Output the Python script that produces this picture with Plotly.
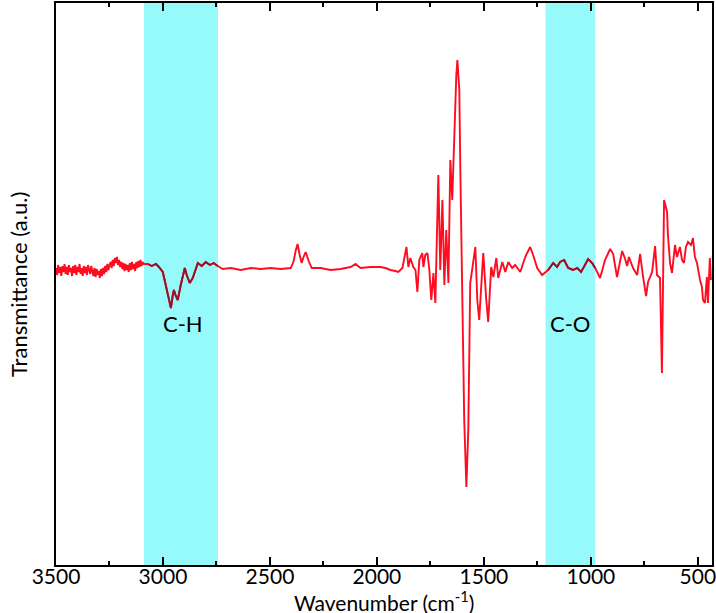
import plotly.graph_objects as go

# Wavenumber (cm-1) and transmittance (a.u.)
wn_noisy = [
    3500, 3495, 3490, 3485, 3480, 3475, 3470, 3465, 3460, 3455, 3450, 3445, 3440, 3435, 3430, 3425, 3420,
    3415, 3410, 3405, 3400, 3395, 3390, 3385, 3380, 3375, 3370, 3365, 3360, 3355, 3350, 3345, 3340, 3335,
    3330, 3325, 3320, 3315, 3310, 3305, 3300, 3295, 3290, 3285, 3280, 3275, 3270, 3265, 3260, 3255, 3250,
    3245, 3240, 3235, 3230, 3225, 3220, 3215, 3210, 3205, 3200, 3195, 3190, 3185, 3180, 3175, 3170, 3165,
    3160, 3155, 3150, 3145, 3140, 3135, 3130, 3125, 3120, 3115, 3110, 3105, 3100, 3095, 3090,
]
t_noisy = [
    297, 290, 300, 292, 298, 289, 299, 293, 301, 291, 298, 290, 300, 293, 297, 289, 299,
    292, 300, 290, 298, 293, 301, 291, 297, 289, 299, 292, 298, 290, 300, 294, 291, 299,
    293, 289, 297, 288, 296, 290, 294, 287, 296, 289, 297, 291, 299, 293, 301, 295, 300,
    303, 297, 305, 299, 307, 302, 308, 300, 305, 298, 303, 296, 302, 294, 301, 295, 300,
    293, 302, 295, 303, 296, 301, 294, 303, 297, 304, 298, 305, 299, 303, 301,
]
wn_rest = [
    3071, 3052, 3033, 3019, 3001, 2987, 2973, 2963, 2954, 2949, 2940, 2931, 2917, 2898, 2889,
    2875, 2861, 2847, 2837, 2819, 2800, 2781, 2763, 2744, 2721, 2683, 2637, 2590, 2543, 2497,
    2450, 2403, 2389, 2380, 2371, 2361, 2352, 2343, 2333, 2319, 2305, 2263, 2217, 2170, 2123,
    2100, 2077, 2030, 1984, 1960, 1937, 1914, 1900, 1881, 1862, 1853, 1844, 1830, 1820, 1811,
    1802, 1788, 1783, 1774, 1764, 1755, 1746, 1736, 1727, 1718, 1713, 1704, 1694, 1685, 1676,
    1666, 1657, 1648, 1638, 1629, 1624, 1615, 1610, 1601, 1592, 1582, 1573, 1564, 1554, 1540,
    1531, 1522, 1508, 1503, 1489, 1480, 1466, 1456, 1442, 1433, 1414, 1400, 1386, 1368, 1354,
    1330, 1307, 1284, 1270, 1251, 1228, 1214, 1200, 1176, 1158, 1144, 1125, 1106, 1083, 1064,
    1046, 1027, 1013, 994, 980, 957, 934, 910, 896, 878, 854, 840, 831, 822, 803,
    784, 770, 756, 742, 733, 714, 700, 691, 677, 668, 658, 644, 640, 630, 621,
    607, 598, 584, 574, 565, 556, 546, 532, 523, 514, 504, 490, 481, 476, 467,
    458, 453, 444, 439,
]
t_rest = [
    301, 299, 301, 298, 293, 280, 265, 257, 270, 275, 269, 265, 280, 297, 290,
    282, 287, 297, 302, 299, 303, 300, 302, 299, 296, 297, 295, 297, 296, 297,
    296, 297, 304, 314, 321, 310, 302, 308, 313, 304, 297, 297, 295, 296, 298,
    301, 297, 298, 298, 297, 295, 294, 293, 297, 318, 298, 307, 298, 295, 273,
    305, 312, 298, 310, 312, 295, 265, 292, 262, 345, 390, 295, 365, 280, 335,
    282, 405, 365, 445, 490, 505, 475, 392, 265, 145, 78, 135, 282, 298, 318,
    265, 245, 295, 312, 265, 243, 298, 288, 307, 287, 303, 293, 303, 297, 300,
    293, 308, 318, 310, 297, 290, 293, 295, 302, 298, 303, 305, 297, 295, 297,
    293, 300, 306, 302, 297, 287, 305, 316, 311, 288, 314, 306, 299, 308, 297,
    290, 311, 288, 269, 283, 293, 319, 290, 287, 192, 365, 353, 330, 302, 292,
    320, 308, 318, 305, 302, 318, 323, 320, 327, 308, 302, 285, 278, 265, 262,
    288, 262, 307, 285,
]
wavenumber = wn_noisy + wn_rest
transmittance = t_noisy + t_rest

band_labels = ["C-H", "C-O"]
band_starts = [3089, 1212]
band_ends = [2743, 980]
label_x = [2905, 1096]
label_y = [242, 242]

x_ticks = [3500, 3000, 2500, 2000, 1500, 1000, 500]

line_red = "rgb(255,12,32)"
line_dark = "rgb(150,18,40)"
band_fill = "rgb(150,250,250)"
FONT = "Lato"

fig = go.Figure()

fig.add_trace(go.Scatter(
    x=wavenumber, y=transmittance, mode="lines",
    line=dict(color=line_red, width=1.9), showlegend=False, hoverinfo="skip",
))

# darker segments where the spectrum passes under the highlighted bands
seg_x, seg_y = [], []
for hi, lo in zip(band_starts, band_ends):
    for w, t in zip(wavenumber, transmittance):
        if lo <= w <= hi:
            seg_x.append(w)
            seg_y.append(t)
    seg_x.append(None)
    seg_y.append(None)
fig.add_trace(go.Scatter(
    x=seg_x, y=seg_y, mode="lines", connectgaps=False,
    line=dict(color=line_dark, width=1.9), showlegend=False, hoverinfo="skip",
))

for s, e in zip(band_starts, band_ends):
    fig.add_shape(type="rect", xref="x", yref="paper", x0=s, x1=e, y0=0, y1=1,
                  fillcolor=band_fill, line=dict(width=0), layer="below")

for txt, lx, ly in zip(band_labels, label_x, label_y):
    fig.add_annotation(x=lx, y=ly, text=txt, showarrow=False,
                       font=dict(family=FONT, size=22, color="black"))

# axis titles
fig.add_annotation(xref="paper", yref="paper", x=0.5, y=-0.0635, yanchor="middle",
                   text="Wavenumber (cm<sup>-1</sup>)", showarrow=False, borderpad=0,
                   font=dict(family=FONT, size=21, color="black"))
fig.add_annotation(xref="paper", yref="paper", x=-0.058, y=0.5, xanchor="center",
                   textangle=-90, text="Transmittance (a.u.)", showarrow=False,
                   font=dict(family=FONT, size=22, color="black"))

fig.update_layout(
    width=716, height=613,
    margin=dict(l=56, r=4, t=3, b=48),
    paper_bgcolor="white", plot_bgcolor="white",
    font=dict(family=FONT, size=21, color="black"),
    xaxis=dict(
        range=[3500, 434], tickvals=x_ticks, ticks="inside", ticklen=8, tickwidth=2,
        tickcolor="black", showline=True, linewidth=2, linecolor="black", mirror="ticks",
        showgrid=False, zeroline=False, automargin=False, ticklabeloverflow="allow",
        ticklabelstandoff=-8,
        minor=dict(ticks="inside", ticklen=4, tickwidth=2, tickcolor="black", dtick=250, tick0=0, showgrid=False),
        tickfont=dict(family=FONT, size=21),
    ),
    yaxis=dict(
        range=[0, 562], showticklabels=False, ticks="", showline=True, linewidth=2,
        linecolor="black", mirror=True, showgrid=False, zeroline=False, automargin=False,
    ),
)

fig.write_html(
    "out.html",
    config={"displayModeBar": False},
    post_script="document.body.style.margin='0';document.body.style.overflow='hidden';",
)
